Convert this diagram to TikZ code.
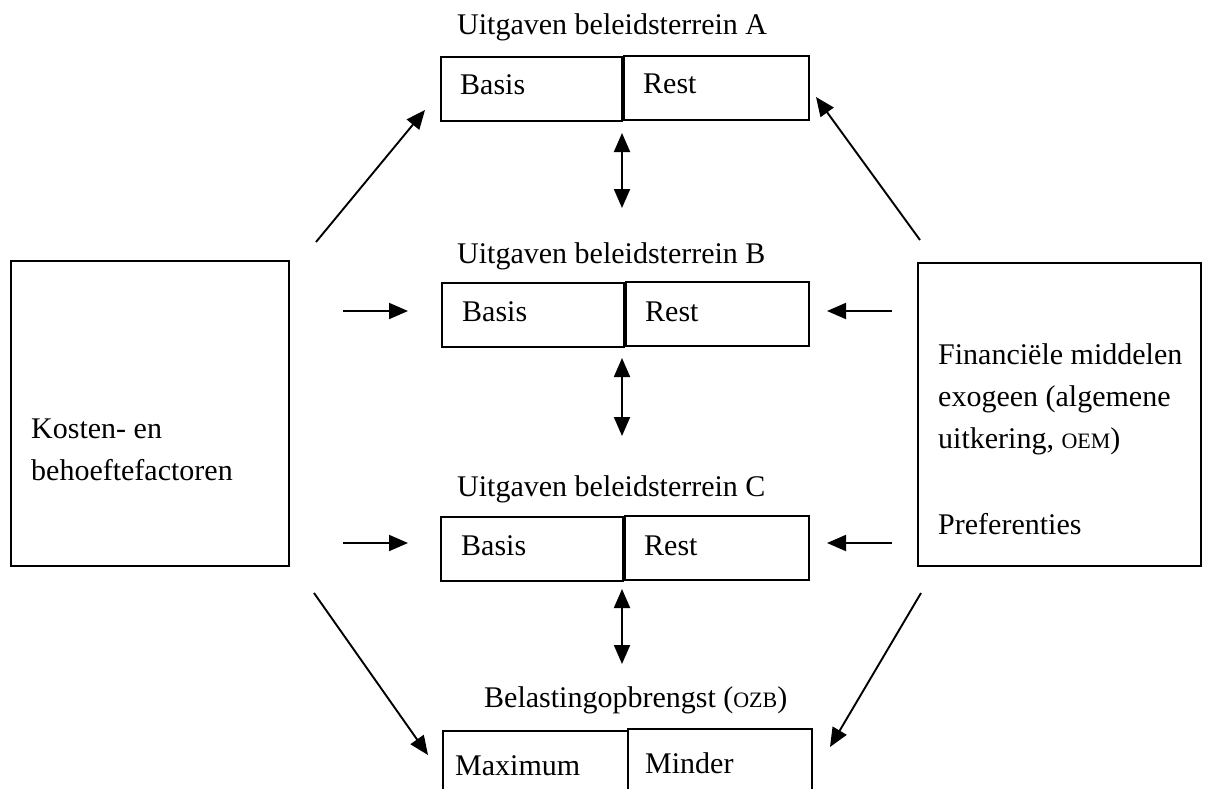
\documentclass[tikz,border=0pt]{standalone}
\usepackage{fontspec}
\setmainfont{Liberation Serif}
\usetikzlibrary{arrows.meta}
\begin{document}
\begin{tikzpicture}[x=1pt,y=-1pt,
  boxline/.style={draw=black,line width=1.8pt,inner sep=0pt,anchor=north west},
  lbl/.style={anchor=base west,inner sep=0pt,font=\fontsize{30}{36}\selectfont},
  arr/.style={line width=1.9pt,-{Triangle[length=19pt,width=16pt]}},
  darr/.style={line width=1.9pt,{Triangle[length=19pt,width=16pt]}-{Triangle[length=19pt,width=16pt]}}]
\useasboundingbox (0,0) rectangle (1212,789);
% side boxes
\node[boxline,minimum width=278pt,minimum height=305pt] (L) at (10,260) {};
\node[boxline,minimum width=283pt,minimum height=303pt] (R) at (917,262) {};
% box A
\node[boxline,minimum width=181pt,minimum height=64pt] (Ab) at (440,56) {};
\node[boxline,minimum width=185pt,minimum height=64pt] (Ar) at (623,55) {};
% box B
\node[boxline,minimum width=182pt,minimum height=64pt] (Bb) at (441,282) {};
\node[boxline,minimum width=183pt,minimum height=64pt] (Br) at (625,281) {};
% box C
\node[boxline,minimum width=182pt,minimum height=64pt] (Cb) at (440,516) {};
\node[boxline,minimum width=184pt,minimum height=64pt] (Cr) at (624,515) {};
% bottom box
\node[boxline,minimum width=185pt,minimum height=80pt] (Db) at (442,730) {};
\node[boxline,minimum width=184pt,minimum height=82pt] (Dr) at (627,728) {};
% titles
\node[lbl] (tA) at (457,35) {Uitgaven beleidsterrein A};
\node[lbl] (tB) at (457,263) {Uitgaven beleidsterrein B};
\node[lbl] (tC) at (457,496) {Uitgaven beleidsterrein C};
\node[lbl] (tD) at (484,707) {Belastingopbrengst ({\fontsize{22}{26}\selectfont OZB})};
% box texts
\node[lbl] (Abt) at (460,95) {Basis};
\node[lbl] (Art) at (643,94) {Rest};
\node[lbl] (Bbt) at (462,321) {Basis};
\node[lbl] (Brt) at (645,321) {Rest};
\node[lbl] (Cbt) at (461,555) {Basis};
\node[lbl] (Crt) at (644,555) {Rest};
\node[lbl] (Dbt) at (455,775) {Maximum};
\node[lbl] (Drt) at (645,773) {Minder};
% side texts
\node[lbl] (L1) at (31,438) {Kosten- en};
\node[lbl] (L2) at (31,480) {behoeftefactoren};
\node[lbl] (R1) at (938,364) {Financiële middelen};
\node[lbl] (R2) at (938,406) {exogeen (algemene};
\node[lbl] (R3) at (938,448) {uitkering, {\fontsize{22}{26}\selectfont OEM})};
\node[lbl] (R4) at (938,534) {Preferenties};
% arrow end points
\coordinate (a1s) at (316,242); \coordinate (a1e) at (425,110);
\coordinate (a2s) at (343,311); \coordinate (a2e) at (408,311);
\coordinate (a3s) at (343,543); \coordinate (a3e) at (408,543);
\coordinate (a4s) at (314,593); \coordinate (a4e) at (428,755);
\coordinate (b1s) at (920,240); \coordinate (b1e) at (816,97);
\coordinate (b2s) at (892,311); \coordinate (b2e) at (827,311);
\coordinate (b3s) at (892,543); \coordinate (b3e) at (827,543);
\coordinate (b4s) at (921,593); \coordinate (b4e) at (830,747);
\coordinate (d1s) at (622,133); \coordinate (d1e) at (622,208);
\coordinate (d2s) at (622,358); \coordinate (d2e) at (622,436);
\coordinate (d3s) at (622,589); \coordinate (d3e) at (622,664);
\draw[arr] (a1s) -- (a1e);
\draw[arr] (a2s) -- (a2e);
\draw[arr] (a3s) -- (a3e);
\draw[arr] (a4s) -- (a4e);
\draw[arr] (b1s) -- (b1e);
\draw[arr] (b2s) -- (b2e);
\draw[arr] (b3s) -- (b3e);
\draw[arr] (b4s) -- (b4e);
\draw[darr] (d1s) -- (d1e);
\draw[darr] (d2s) -- (d2e);
\draw[darr] (d3s) -- (d3e);
\end{tikzpicture}
\end{document}
